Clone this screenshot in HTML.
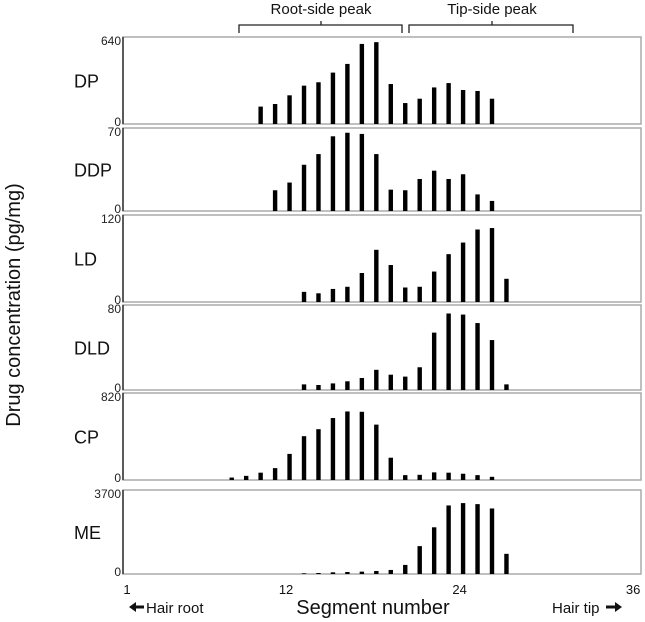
<!DOCTYPE html>
<html><head><meta charset="utf-8"><style>
body{margin:0;background:#fff;}
svg{display:block;font-family:"Liberation Sans",Arial,sans-serif;}
</style></head><body>
<svg id="chart" width="645" height="622" viewBox="0 0 645 622"></svg>
<script>
const panelNames=["DP","DDP","LD","DLD","CP","ME"];
const panelMax=[640,70,120,80,820,3700];
const panelStart=[10,11,13,13,8,13];
const dpValues=[128,147,211,282,307,378,442,589,602,294,154,186,269,301,250,243,186];
const ddpValues=[17.5,24,39,48,63,66,65,48,18,17.5,27,34,27,31,14,8.5];
const ldValues=[14,12,18,21,40,72,51,20,21,42,66,82,100,102,32];
const dldValues=[5.3,4.7,6.2,8.2,11.3,19,14.4,12.6,21.4,54,72,71,63,47,5.3];
const cpValues=[23,39,69,112,246,413,479,584,646,643,522,210,46,49,72,69,59,46,30];
const meValues=[30,44,74,89,104,133,178,400,1228,2057,3019,3123,3078,2886,888];
const xTicks=[1,12,24,36];
const seriesValues=[dpValues,ddpValues,ldValues,dldValues,cpValues,meValues];

const NS="http://www.w3.org/2000/svg";
const svg=document.getElementById('chart');
function mk(tag,attrs,text){const e=document.createElementNS(NS,tag);for(const k in attrs)e.setAttribute(k,attrs[k]);if(text!==undefined)e.textContent=text;svg.appendChild(e);return e;}
const L=123,R=641;
const tops=[37,128,215,305,393,490];
const bots=[124,211,302,390,480,574];
function xScale(s){return 127+(s-1)*14.46+3.5;}
function xTickPos(s){return 127+(s-1)*14.46;}
function yScale(p,v){return bots[p]-(v/panelMax[p])*(bots[p]-tops[p]);}

for(let p=0;p<6;p++){
  const f=mk('rect',{x:L,y:tops[p],width:R-L,height:bots[p]-tops[p],fill:'none',stroke:'#aaa','stroke-width':1.5});
  
  
  const ax=mk('line',{x1:L,y1:tops[p],x2:L,y2:bots[p],stroke:'#333','stroke-width':1.5});
  
  
  const t1=mk('text',{x:L-2,y:tops[p]+8,'font-size':12,'text-anchor':'end',fill:'#222'},String(panelMax[p]));
  
  
  const t0=mk('text',{x:L-2,y:bots[p]+2,'font-size':12,'text-anchor':'end',fill:'#222'},'0');
  
  
  const nm=mk('text',{x:74,y:(tops[p]+bots[p])/2+7,'font-size':18,fill:'#111'},panelNames[p]);
  
  
  const vals=seriesValues[p];
  for(let i=0;i<vals.length;i++){
    const s=panelStart[p]+i;
    const y=yScale(p,vals[i]);
    const b=mk('rect',{x:xScale(s)-2.2,y:y,width:4.4,height:bots[p]-y,fill:'#000'});
    
    
  }
}
for(const t of xTicks){
  const e=mk('text',{x:xTickPos(t),y:594,'font-size':13,'text-anchor':'middle',fill:'#111'},String(t));
  
  
}
</script>
<script>
(function(){
const NS="http://www.w3.org/2000/svg";const svg=document.getElementById('chart');
function mk(tag,attrs,text){const e=document.createElementNS(NS,tag);for(const k in attrs)e.setAttribute(k,attrs[k]);if(text!==undefined)e.textContent=text;svg.appendChild(e);return e;}
let e;
e=mk('text',{x:373,y:614,'font-size':20,'text-anchor':'middle',fill:'#111'},'Segment number');


e=mk('path',{d:'M129,607 L136,602 V605.5 H144 V608.5 H136 V612 Z',fill:'#111'});


e=mk('text',{x:146,y:613,'font-size':15,fill:'#111'},'Hair root');


e=mk('text',{x:552,y:613,'font-size':15,fill:'#111'},'Hair tip');


e=mk('path',{d:'M606,605.5 H615 V602 L622,607 L615,612 V608.5 H606 Z',fill:'#111'});


e=mk('text',{x:0,y:0,'font-size':20,'text-anchor':'middle',fill:'#111',transform:'translate(20,305) rotate(-90)'},'Drug concentration (pg/mg)');


e=mk('path',{d:'M239,33 V25 H321 V21 M321,25 H402 V33',fill:'none',stroke:'#222','stroke-width':1.3});


e=mk('path',{d:'M409,33 V25 H492 V21 M492,25 H573 V33',fill:'none',stroke:'#222','stroke-width':1.3});


e=mk('text',{x:321,y:14,'font-size':15,'text-anchor':'middle',fill:'#111'},'Root-side peak');


e=mk('text',{x:492,y:14,'font-size':15,'text-anchor':'middle',fill:'#111'},'Tip-side peak');


})();
</script>
</body></html>
